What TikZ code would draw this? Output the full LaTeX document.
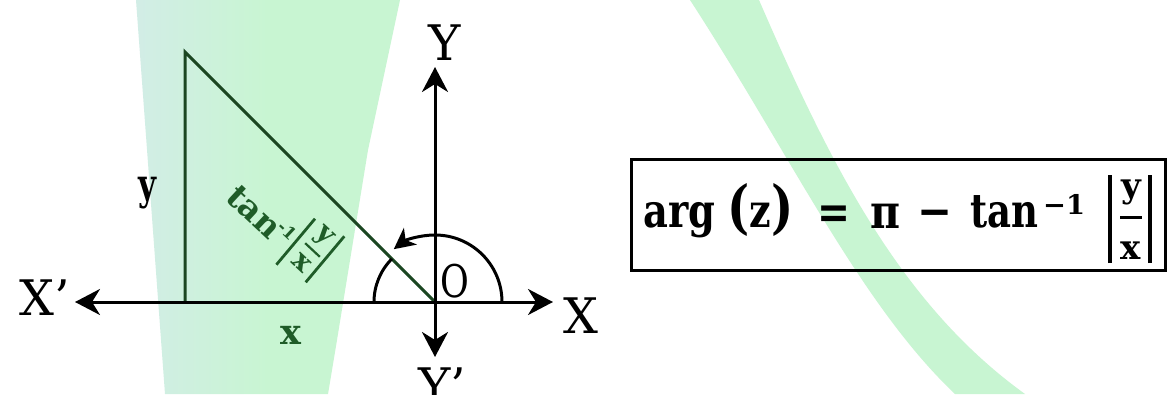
\documentclass[tikz,border=0pt]{standalone}
\usepackage{fontspec}
\setmainfont{DejaVu Serif}
\usetikzlibrary{arrows.meta}
\definecolor{bandmint}{HTML}{C8F5D2}
\definecolor{bandteal}{HTML}{D2EDE6}
\definecolor{trigreen}{HTML}{1B4621}
\definecolor{txtgreen}{HTML}{1F5C28}
\newcommand{\fitw}[2]{\resizebox{#1}{\height}{#2}}
\begin{document}
\begin{tikzpicture}[x=1pt,y=1pt,
  axis/.style={line width=3pt,-{Stealth[length=25pt,width=26pt,inset=8pt]}},
  arcline/.style={line width=3pt},
  tri/.style={line width=3pt,draw=trigreen,line join=miter},
  lbl/.style={inner sep=0pt,font=\fontsize{49}{49}\selectfont},
  side/.style={inner sep=0pt,font=\bfseries\fontsize{43}{43}\selectfont},
  rot/.style={inner sep=0pt,rotate=-43,text=txtgreen,font=\bfseries\fontsize{33}{33}\selectfont},
  rotbar/.style={line width=2.8pt,draw=txtgreen},
  fml/.style={inner sep=0pt,anchor=base west,font=\bfseries\fontsize{47}{47}\selectfont},
  fbar/.style={line width=3.5pt}]
\clip (0,0) rectangle (1167,394);
\fill[white] (0,0) rectangle (1167,394);
% watermark bands
\shade[left color=bandteal,right color=bandmint,middle color=bandmint] (136,394) -- (400,394) -- (368,244) -- (337,54) -- (328,0) -- (165,0) -- cycle;
\fill[bandmint] (690,394) .. controls (790,240) and (860,90) .. (955,0)
  -- (1025,0) .. controls (900,90) and (830,230) .. (759,394) -- cycle;
% points
\coordinate (O) at (435,92);
\coordinate (Xm) at (75,92);
\coordinate (Xp) at (553,92);
\coordinate (Yp) at (435,327);
\coordinate (Ym) at (435,37);
\coordinate (A) at (185,342);
\coordinate (B) at (185,92);
% triangle
\draw[tri] (B) -- (A) -- (O);
% axes
\draw[axis] (O) -- (Xm);
\draw[axis] (O) -- (Xp);
\draw[axis] (O) -- (Yp);
\draw[axis] (O) -- (Ym);
% arcs
\draw[arcline,-{Stealth[length=21pt,width=21pt,inset=6pt]}] ([shift={(0:67)}]O) arc[start angle=0,end angle=128,radius=67];
\draw[arcline] ([shift={(135:61)}]O) arc[start angle=135,end angle=180,radius=61];
% axis labels
\node[lbl] (Xml) at (45,96) {X’};
\node[lbl] (Xpl) at (581,78) {X};
\node[lbl] (Ypl) at (445,351) {Y};
\node[lbl,anchor=base] (Yml) at (442,-9) {Y’};
\node[inner sep=0pt,font=\fontsize{45}{45}\selectfont] (Ol) at (455,113) {\scalebox{0.78}[1]{O}};
% side labels
\node[side] (yl) at (147,201) {\scalebox{0.72}[1]{y}};
\node[side,text=txtgreen,font=\bfseries\fontsize{35}{35}\selectfont] (xl) at (291,59) {x};
% rotated angle label
\node[rot] (rtan) at (254,182.3) {tan};
\node[rot,font=\bfseries\fontsize{17}{17}\selectfont] (rsup) at (287.5,163.5) {-1};
\node[rot,font=\bfseries\fontsize{28}{28}\selectfont] (rnum) at (323.3,157.3) {y};
\node[rot,font=\bfseries\fontsize{28}{28}\selectfont] (rden) at (301.7,130.7) {x};
\draw[rotbar] (276.4,129.3) -- (315,175.3);
\draw[rotbar] (305.7,111.7) -- (344.3,157.7);
\draw[rotbar,line width=2.2pt] (305.2,150.8) -- (319.8,137.2);
% formula box
\draw[line width=3pt] (631,124) rectangle (1165,234.5);
\node[fml] (f1) at (643,166) {\fitw{72pt}{arg}};
\node[fml] (f2) at (727,166) {\fitw{66pt}{{\fontsize{58}{58}\selectfont(}z{\fontsize{58}{58}\selectfont)}}};
\node[fml] (f3) at (817,166) {\fitw{33pt}{=}};
\node[fml] (f4) at (870,166) {\fitw{30pt}{π}};
\node[fml] (f5) at (917,166) {\fitw{35pt}{−}};
\node[fml] (f6) at (970,166) {\fitw{68pt}{tan}};
\node[fml,font=\bfseries\fontsize{27}{27}\selectfont] (f7) at (1043,179) {\fitw{42pt}{−1}};
\node[inner sep=0pt,font=\bfseries\fontsize{34}{34}\selectfont] (fy) at (1131,202) {y};
\node[inner sep=0pt,font=\bfseries\fontsize{34}{34}\selectfont] (fx) at (1131,143) {x};
\draw[fbar] (1110,131) -- (1110,219);
\draw[fbar] (1150,131) -- (1150,219);
\draw[line width=3pt] (1120,176) -- (1142,176);
\end{tikzpicture}
\end{document}
